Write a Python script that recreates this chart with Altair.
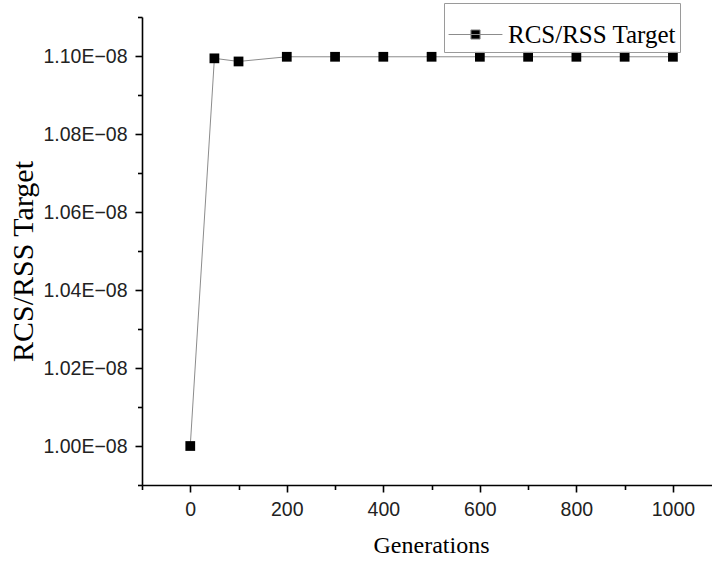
import altair as alt
import pandas as pd

# Convergence of the RCS/RSS target over the generations
generations = [0, 50, 100, 200, 300, 400, 500, 600, 700, 800, 900, 1000]
rcs_rss_target = [1.0000e-8, 1.0994e-8, 1.0986e-8, 1.0998e-8, 1.0998e-8, 1.0998e-8,
                  1.0998e-8, 1.0998e-8, 1.0998e-8, 1.0998e-8, 1.0998e-8, 1.0998e-8]
series_name = "RCS/RSS Target"

x_ticks = list(range(-100, 1001, 100))
y_ticks = [round((99 + i) * 1e-10, 14) for i in range(13)]

df = pd.DataFrame({"gen": generations, "val": rcs_rss_target, "series": series_name})

SANS = "Liberation Sans"
SERIF = "Liberation Serif"

x_axis = alt.Axis(
    values=x_ticks,
    labelExpr="datum.value % 200 == 0 ? format(datum.value, 'd') : ''",
    tickSize={"condition": {"test": "datum.value % 200 == 0", "value": 7}, "value": 4.5},
    title="Generations", titleFont=SERIF, titleFontSize=24, titleFontWeight="normal",
    titleColor="black", titleY=67, titleX=289, titleBaseline="alphabetic",
    labelFont=SANS, labelFontSize=19.5, labelColor="#222", labelPadding=8,
    labelOverlap=False, labelFlush=False,
    domainColor="black", domainWidth=1.6, tickColor="black", tickWidth=1.6,
    grid=False,
)

y_axis = alt.Axis(
    values=y_ticks,
    labelExpr="round(datum.value * 1e10) % 2 == 0 ? format(datum.value * 1e8, '.2f') + 'E\u221208' : ''",
    tickSize={"condition": {"test": "round(datum.value * 1e10) % 2 == 0", "value": 7}, "value": 4.5},
    title="RCS/RSS Target", titleFont=SERIF, titleFontSize=30, titleFontWeight="normal",
    titleColor="black", titleX=-110, titleY=244, titleBaseline="alphabetic", titleAngle=-90,
    labelFont=SANS, labelFontSize=19.5, labelColor="#222", labelPadding=8,
    labelOverlap=False, labelFlush=False,
    domainColor="black", domainWidth=1.6, tickColor="black", tickWidth=1.6,
    grid=False,
)

x_enc = alt.X("gen:Q", scale=alt.Scale(domain=[-100, 1081], nice=False, zero=False), axis=x_axis)
y_enc = alt.Y("val:Q", scale=alt.Scale(domain=[0.99e-8, 1.11e-8], nice=False, zero=False), axis=y_axis)

line = alt.Chart(df).mark_line(color="#8c8c8c", strokeWidth=1).encode(x=x_enc, y=y_enc)

points = alt.Chart(df).mark_point(shape="square", filled=True, size=95, opacity=1).encode(
    x=x_enc,
    y=y_enc,
    color=alt.Color(
        "series:N",
        scale=alt.Scale(range=["black"]),
        legend=alt.Legend(
            title=None,
            orient="none",
            legendX=302,
            legendY=-14,
            symbolType="M-1,0H1M-0.17,-0.17H0.17V0.17H-0.17Z",
            symbolSize=2900,
            symbolFillColor="black",
            symbolStrokeColor="#8c8c8c",
            symbolStrokeWidth=1,
            labelFont=SERIF,
            labelFontSize=25,
            labelColor="black",
            labelOffset=5,
            labelLimit=400,
            padding=4,
            strokeColor="#9a9a9a",
        ),
    ),
)

chart = (
    alt.layer(line, points)
    .properties(
        width=570,
        height=468,
        autosize=alt.AutoSizeParams(type="none"),
        padding={"left": 142, "top": 17, "right": 0, "bottom": 77},
        background="white",
    )
    .configure_view(stroke=None)
    .configure_legend(strokeWidth=1)
)

chart.save("out.html", embed_options={"renderer": "svg", "actions": False})
